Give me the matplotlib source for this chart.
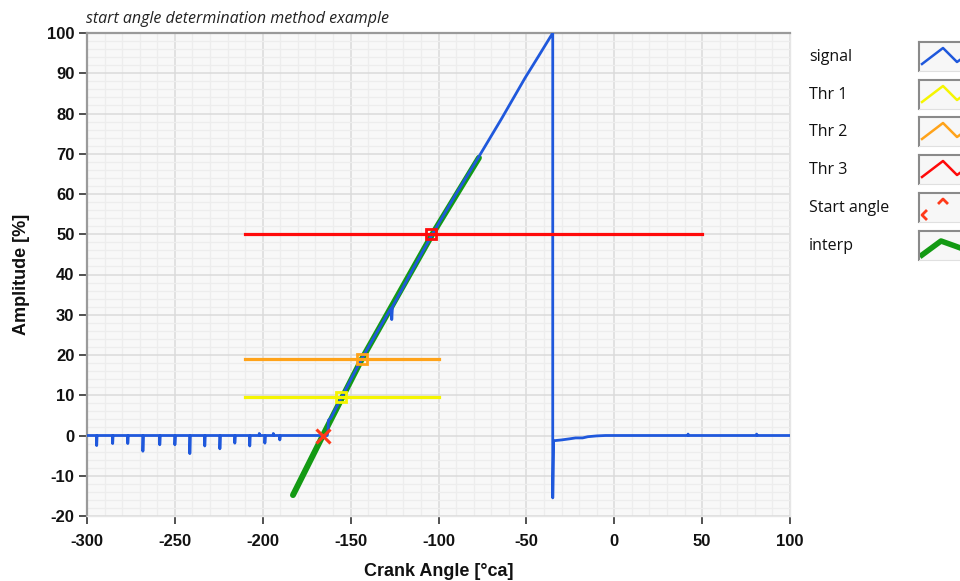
import matplotlib
matplotlib.use("Agg")
import matplotlib.pyplot as plt
from matplotlib.ticker import MultipleLocator
from matplotlib.font_manager import FontProperties

plt.rcParams["axes.unicode_minus"] = False

# ---------------- data ----------------
# measured signal (crank angle vs amplitude)
signal_x = [-300, -294.5, -294.5, -294.3, -285.4, -285.4, -285.2, -276.8, -276.8, -276.6,
            -268.2, -268.2, -268.0, -258.6, -258.6, -258.4, -250.0, -250.0, -249.8,
            -241.5, -241.5, -241.3, -233.0, -233.0, -232.8, -224.4, -224.4, -224.2,
            -215.9, -215.9, -215.7, -207.4, -207.4, -207.2, -202, -202, -201.6,
            -198.8, -198.8, -198.6, -194, -194, -193.6, -190.3, -190.3, -190.1,
            -163.3, -162.9, -162.6, -161.3, -155.0, -149.3, -143.6, -135.5, -127.5,
            -126.8, -126.6, -126.2, -115.5, -103.5, -90.0, -77.0, -64.0, -50.8, -43.0, -35,
            -35, -34.5, -30, -25, -22, -18, -15, -10, -5,
            42, 42, 42.4, 81, 81, 81.4, 100]
signal_y = [0, 0, -2.5, 0, 0, -2.0, 0, 0, -2.0, 0,
            0, -3.9, 0, 0, -2.3, 0, 0, -2.3, 0,
            0, -4.5, 0, 0, -2.6, 0, 0, -3.3, 0,
            0, -1.9, 0, 0, -2.6, 0, 0, 0.5, 0,
            0, -1.9, 0, 0, 0.5, 0, 0, -1.1, 0,
            0, 1.0, 3.8, 4.3, 9.6, 14.4, 19.1, 25.3, 31.3,
            31.7, 28.8, 32.0, 40.6, 50.0, 60.0, 69.3, 78.8, 88.8, 94.3, 100,
            -15.5, -1.3, -1.1, -0.8, -0.6, -0.6, -0.3, -0.1, 0,
            0, 0.35, 0, 0, 0.35, 0, 0]

# interpolation through the threshold crossings
interp_x = [-182.8, -165.8, -143.6, -103.5, -77.0]
interp_y = [-14.8, 0.0, 19.0, 50.0, 69.0]

# thresholds: level, start, end, crossing angle
thr_levels = [9.5, 19.0, 50.0]
thr_start = [-210, -210, -210]
thr_end = [-100, -100, 50]
thr_cross_x = [-155.2, -143.6, -104.0]

start_angle_x = [-165.8]
start_angle_y = [-0.1]

x_ticks = [-300, -250, -200, -150, -100, -50, 0, 50, 100]
y_ticks = [-20, -10, 0, 10, 20, 30, 40, 50, 60, 70, 80, 90, 100]

legend_labels = ["signal", "Thr 1", "Thr 2", "Thr 3", "Start angle", "interp"]

# ---------------- style ----------------
c_signal = "#1f58dc"
c_thr = ["#f5f500", "#ffa31a", "#ff0a0a"]
c_start = "#ff3a1a"
c_interp = "#139a13"

W, H = 960, 581
fig = plt.figure(figsize=(W / 100, H / 100), dpi=100)
fig.patch.set_facecolor("white")

ax = fig.add_axes([87 / W, 1 - 516 / H, (790 - 87) / W, (516 - 33) / H])
ax.set_facecolor("#f8f8f8")
ax.set_xlim(-300, 100)
ax.set_ylim(-20, 100)
ax.xaxis.set_minor_locator(MultipleLocator(10))
ax.yaxis.set_minor_locator(MultipleLocator(2))
ax.set_xticks(x_ticks)
ax.set_yticks(y_ticks)
ax.grid(which="major", color="#dadada", linewidth=1.1, zorder=0)
ax.grid(which="minor", color="#ededed", linewidth=0.9, zorder=0)
ax.set_axisbelow(True)

for s in ["top", "left"]:
    ax.spines[s].set_color("#9a9a9a")
    ax.spines[s].set_linewidth(1.6)
for s in ["bottom", "right"]:
    ax.spines[s].set_color("#e6e6e6")
    ax.spines[s].set_linewidth(1.0)

tick_fp = FontProperties(family="Liberation Sans", weight="bold", size=12)
ax.tick_params(axis="x", which="major", direction="out", length=6, width=1.2,
               color="#333333", labelcolor="#111111", pad=7)
ax.tick_params(axis="y", which="major", direction="out", length=6, width=1.2,
               color="#333333", labelcolor="#111111", pad=3)
ax.tick_params(axis="both", which="minor", length=0)
for lab in ax.get_xticklabels() + ax.get_yticklabels():
    lab.set_fontproperties(tick_fp)

# interp (below signal)
ax.plot(interp_x, interp_y, color=c_interp, linewidth=4.3, solid_capstyle="round",
        solid_joinstyle="round", zorder=3)
# signal
ax.plot(signal_x, signal_y, color=c_signal, linewidth=2.0, zorder=4)
# thresholds
for lvl, xs, xe, col, cx in zip(thr_levels, thr_start, thr_end, c_thr, thr_cross_x):
    ax.plot([xs, xe], [lvl, lvl], color=col, linewidth=2.3, zorder=5)
    ax.plot([cx], [lvl], marker="s", markersize=7, markerfacecolor="none",
            markeredgecolor=col, markeredgewidth=2, zorder=6)
# start angle
ax.plot(start_angle_x, start_angle_y, linestyle="none", marker="x", markersize=10,
        markeredgewidth=2.2, color=c_start, zorder=7)

ax.set_xlabel("Crank Angle [°ca]", fontfamily="Liberation Sans", fontweight="bold",
              fontsize=13, color="#111111", labelpad=10)
ax.set_ylabel("Amplitude [%]", fontfamily="Liberation Sans", fontweight="bold",
              fontsize=13, color="#111111", labelpad=12)

fig.text(86 / W, 1 - 19 / H, "start angle determination method example",
         fontfamily="Open Sans", fontstyle="italic", fontsize=11.5, color="#222222",
         ha="left", va="center")

# ---------------- legend ----------------
leg_y = [57, 95, 132, 170, 208, 246]
leg_cols = [c_signal, c_thr[0], c_thr[1], c_thr[2], c_start, c_interp]
for lab, yc, col in zip(legend_labels, leg_y, leg_cols):
    fig.text(809 / W, 1 - yc / H, lab, fontfamily="Open Sans", fontsize=11.5,
             color="#111111", ha="left", va="center")
    top = yc - 15
    lax = fig.add_axes([919 / W, 1 - (top + 29) / H, 60 / W, 29 / H])
    lax.set_xlim(0, 60)
    lax.set_ylim(29, 0)
    lax.set_facecolor("#f7f7f7")
    for s in ["top", "left"]:
        lax.spines[s].set_color("#8a8a8a")
        lax.spines[s].set_linewidth(1.5)
    for s in ["bottom", "right"]:
        lax.spines[s].set_color("#e0e0e0")
    lax.set_xticks([])
    lax.set_yticks([])
    if lab == "Start angle":
        lax.plot([7, 3, 7], [18, 22, 26], color=col, linewidth=2)
        lax.plot([20, 24, 28], [10, 6, 10], color=col, linewidth=2)
    elif lab == "interp":
        lax.plot([3, 22, 36, 55], [24, 10, 15, 22], color=col, linewidth=4)
    else:
        lax.plot([3, 24, 38, 55], [22, 6, 20, 8], color=col, linewidth=1.8)

fig.savefig("out.png", dpi=100)
